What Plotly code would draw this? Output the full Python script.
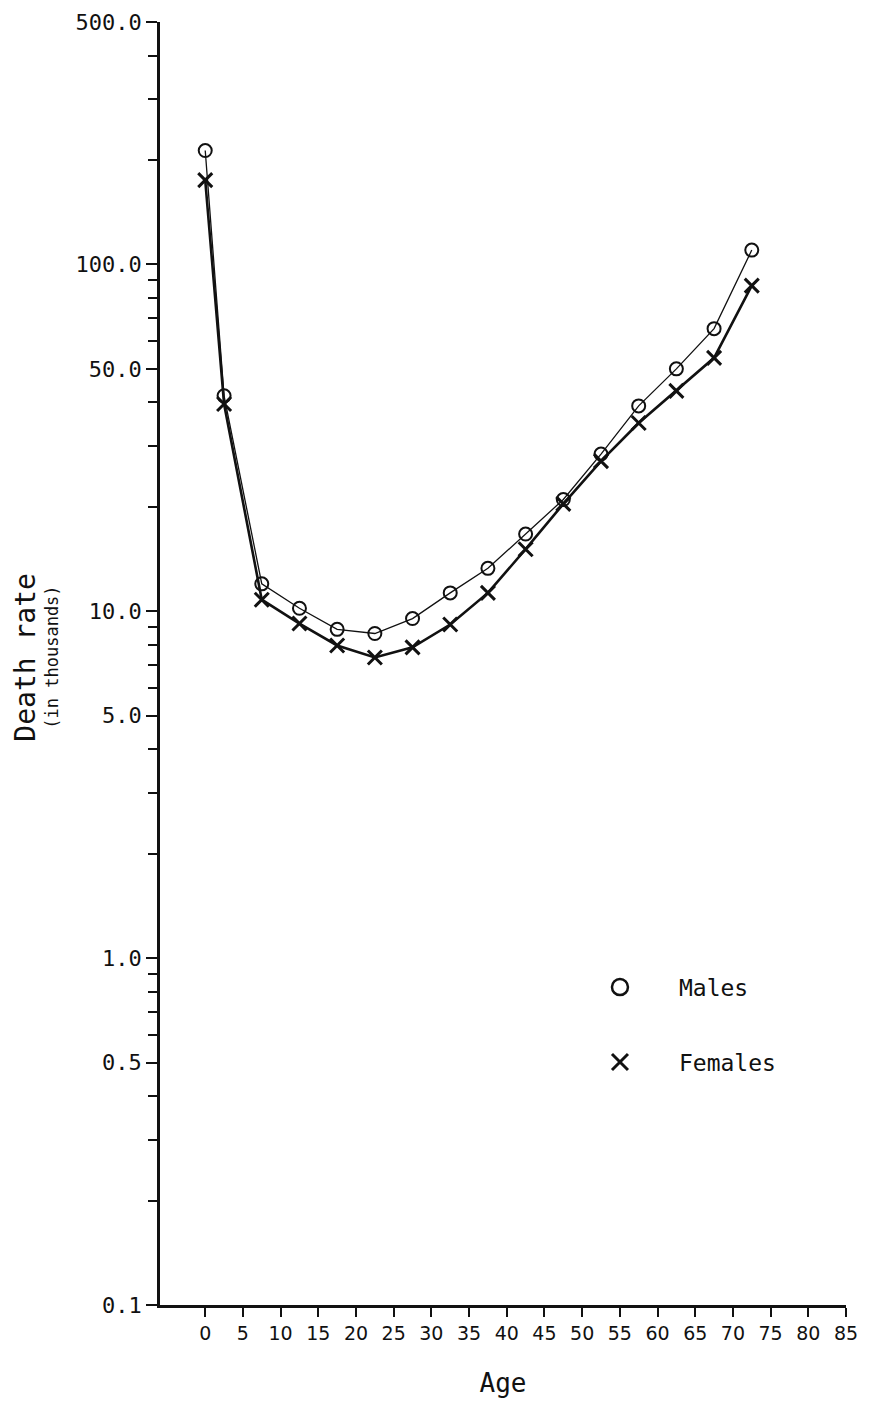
import plotly.graph_objects as go

# ---- data ----
ages = [0, 2.5, 7.5, 12.5, 17.5, 22.5, 27.5, 32.5, 37.5, 42.5, 47.5, 52.5, 57.5, 62.5, 67.5, 72.5]
males = [213, 41.8, 12.0, 10.2, 8.87, 8.63, 9.53, 11.3, 13.3, 16.7, 21.0, 28.4, 39.1, 50.0, 65.3, 110]
females = [175, 39.6, 10.8, 9.22, 7.97, 7.36, 7.87, 9.16, 11.3, 15.1, 20.4, 27.1, 34.9, 43.2, 53.8, 86.9]

x_ticks = list(range(0, 90, 5))
y_ticks = [0.1, 0.5, 1.0, 5.0, 10.0, 50.0, 100.0, 500.0]
y_tick_labels = ["0.1", "0.5", "1.0", "5.0", "10.0", "50.0", "100.0", "500.0"]
y_minor = [m * d for d in (0.1, 1, 10, 100) for m in (2, 3, 4, 6, 7, 8, 9) if m * d < 500]

FONT = "DejaVu Sans"
MONO = "DejaVu Sans Mono"
INK = "#111111"

fig = go.Figure()

fig.add_trace(go.Scatter(
    x=ages, y=males, mode="lines+markers", name="Males", showlegend=False,
    line=dict(color=INK, width=1.3),
    marker=dict(symbol="circle-open", size=13, color=INK, line=dict(width=2, color=INK)),
))
fig.add_trace(go.Scatter(
    x=ages, y=females, mode="lines+markers", name="Females", showlegend=False,
    line=dict(color=INK, width=2.6),
    marker=dict(symbol="x-thin-open", size=14, color=INK, line=dict(width=3, color=INK)),
))
# legend-only entries (markers without lines, as in the original key)
fig.add_trace(go.Scatter(
    x=[None], y=[None], mode="markers", name="Males", legendgroup="m",
    marker=dict(symbol="circle-open", size=19, color=INK, line=dict(width=2.5, color=INK)),
))
fig.add_trace(go.Scatter(
    x=[None], y=[None], mode="markers", name="Females", legendgroup="f",
    marker=dict(symbol="x-thin-open", size=22, color=INK, line=dict(width=3, color=INK)),
))

fig.update_layout(
    width=871, height=1402,
    margin=dict(l=152, r=33, t=14, b=105),
    paper_bgcolor="white", plot_bgcolor="white",
    font=dict(family=FONT, color=INK),
    legend=dict(
        x=0.5845, y=0.2645, xanchor="left", yanchor="top",
        font=dict(size=23, family=MONO, color=INK),
        itemwidth=108, tracegroupgap=42, bgcolor="rgba(0,0,0,0)",
    ),
    xaxis=dict(
        range=[-6, 85], tickmode="array", tickvals=x_ticks,
        ticktext=[str(v) for v in x_ticks], automargin=False,
        ticks="outside", ticklen=9, tickwidth=2, tickcolor=INK,
        showline=True, linecolor=INK, linewidth=2.5, showgrid=False, zeroline=False,
        tickfont=dict(size=19, family=FONT, color=INK),
        title=dict(text="Age", font=dict(size=26, family=MONO, color=INK), standoff=32),
    ),
    yaxis=dict(
        type="log", range=[-1, 2.69897], automargin=False,
        tickmode="array", tickvals=y_ticks, ticktext=y_tick_labels,
        ticks="outside", ticklen=11, tickwidth=2, tickcolor=INK,
        minor=dict(tickmode="array", tickvals=y_minor, ticks="outside", ticklen=9,
                   tickwidth=2, tickcolor=INK, showgrid=False),
        showline=True, linecolor=INK, linewidth=2.5, showgrid=False, zeroline=False,
        tickfont=dict(size=22, family=MONO, color=INK),
    ),
)

fig.add_annotation(
    text="Death rate", xref="paper", yref="paper", x=-0.196, y=0.505,
    xanchor="center", yanchor="middle", textangle=-90, showarrow=False,
    font=dict(size=28, family=MONO, color=INK),
)
fig.add_annotation(
    text="(in thousands)", xref="paper", yref="paper", x=-0.158, y=0.505,
    xanchor="center", yanchor="middle", textangle=-90, showarrow=False,
    font=dict(size=17, family=MONO, color=INK),
)

fig.write_html("out.html")
